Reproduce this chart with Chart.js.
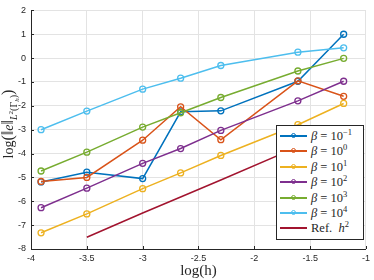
<!DOCTYPE html>
<html>
<head>
<meta charset="utf-8">
<script src="https://cdn.jsdelivr.net/npm/chart.js@4"></script>
<style>
  body { margin: 0; background: #fff; }
  #wrap { position: relative; width: 374px; height: 280px; }
  #ytitle { position: absolute; left: -71px; top: 114px; width: 160px; height: 20px; line-height: 20px;
            transform: rotate(-90deg); text-align: center; white-space: nowrap;
            font: 14px "Liberation Serif", serif; color: #262626; }
  #ytitle .bg { font-size: 16px; }
  #ytitle .sb { font-size: 10px; position: relative; top: 4px; }
  #ytitle .sp { font-size: 7px; position: relative; top: -4px; }
  #ytitle .ss { font-size: 7px; position: relative; top: 2px; }
  #legend { position: absolute; left: 276px; top: 125px; width: 86px; height: 113px;
            border: 1px solid #262626; background: #fff;
            font: 12.5px "Liberation Serif", serif; color: #262626; }
  .row { position: absolute; left: 0; height: 16px; width: 86px; }
  .ln { position: absolute; left: 3px; top: 7px; width: 27px; height: 1.5px; }
  .mk { position: absolute; left: 13.5px; top: 4.5px; width: 3.5px; height: 3.5px; border-radius: 50%;
        border: 1.3px solid; background: transparent; }
  .tx { position: absolute; left: 34px; top: 0; line-height: 16px; white-space: nowrap; }
  .tx sup { font-size: 8.5px; vertical-align: 5px; line-height: 0; }
</style>
</head>
<body>
<div id="wrap">
  <canvas id="myChart" width="374" height="280"></canvas>
  <div id="ytitle">log<span class="bg">(‖</span><i>e</i><span class="bg">‖</span><span class="sb"><i>L</i><span class="sp">2</span>(Γ<span class="ss"><i>h</i></span>)</span><span class="bg">)</span></div>
  <div id="legend"></div>
</div>
<script>
// x values: log(h)
const logH = [-3.91, -3.50, -3.00, -2.66, -2.30, -1.61, -1.20];

// log of the L2 error per beta
const betaM1 = [-5.19, -4.78, -5.05, -2.25, -2.21, -0.97, 1.00];
const beta0  = [-5.17, -5.00, -3.44, -2.04, -3.42, -0.95, -1.60];
const beta1  = [-7.32, -6.53, -5.47, -4.81, -4.08, -2.79, -1.90];
const beta2  = [-6.27, -5.45, -4.41, -3.79, -3.03, -1.79, -0.97];
const beta3  = [-4.73, -3.94, -2.89, -2.29, -1.65, -0.54, -0.01];
const beta4  = [-3.00, -2.22, -1.30, -0.84, -0.31, 0.25, 0.43];
const refH2  = [null, -7.51, -6.49, -5.82, -5.11, -3.72, -2.91];

const labels = ["β = 10^-1", "β = 10^0", "β = 10^1", "β = 10^2", "β = 10^3", "β = 10^4", "Ref. h^2"];
const labelHtml = [
  "<i>β</i> = 10<sup>−1</sup>", "<i>β</i> = 10<sup>0</sup>", "<i>β</i> = 10<sup>1</sup>",
  "<i>β</i> = 10<sup>2</sup>", "<i>β</i> = 10<sup>3</sup>", "<i>β</i> = 10<sup>4</sup>",
  "Ref. &nbsp;<i>h</i><sup>2</sup>"
];
const colors = ["#0072BD", "#D95319", "#EDB120", "#7E2F8E", "#77AC30", "#4DBEEE", "#A2142F"];
const series = [betaM1, beta0, beta1, beta2, beta3, beta4, refH2];

const datasets = series.map(function (ys, i) {
  return {
    label: labels[i],
    data: logH.map(function (x, j) { return { x: x, y: ys[j] }; }),
    borderColor: colors[i],
    borderWidth: 1.5,
    pointRadius: i < 6 ? 3 : 0,
    pointBorderWidth: 1.3,
    pointBackgroundColor: "rgba(0,0,0,0)",
    pointBorderColor: colors[i],
    fill: false,
    tension: 0,
    order: 6 - i,
  };
});

const tickFont = { family: "'Liberation Sans', Arial, sans-serif", size: 9 };

// matlab style ticks pointing into the plot
const innerTicks = {
  id: "innerTicks",
  afterDatasetsDraw: function (chart) {
    const ctx = chart.ctx, a = chart.chartArea;
    const xs = chart.scales.x, ys = chart.scales.y;
    ctx.save();
    ctx.strokeStyle = "#262626";
    ctx.lineWidth = 1;
    ctx.beginPath();
    xs.ticks.forEach(function (t) {
      const p = Math.round(xs.getPixelForValue(t.value)) + 0.5;
      ctx.moveTo(p, a.bottom); ctx.lineTo(p, a.bottom - 3);
    });
    ys.ticks.forEach(function (t) {
      const p = Math.round(ys.getPixelForValue(t.value)) + 0.5;
      ctx.moveTo(a.left, p); ctx.lineTo(a.left + 3, p);
    });
    ctx.stroke();
    ctx.restore();
  },
};

new Chart(document.getElementById("myChart").getContext("2d"), {
  type: "line",
  data: { datasets: datasets },
  plugins: [innerTicks],
  options: {
    responsive: false,
    animation: false,
    events: [],
    layout: { padding: { top: 5, right: 4, left: 0, bottom: 0 } },
    plugins: { legend: { display: false }, tooltip: { enabled: false } },
    scales: {
      x: {
        type: "linear",
        min: -4, max: -1,
        ticks: { stepSize: 0.5, color: "#262626", font: tickFont, padding: 4,
                 callback: function (v) { return String(v); } },
        grid: { color: "#e3e3e3", tickLength: 0 },
        border: { color: "#262626", width: 1 },
        title: { display: true, text: "log(h)", color: "#262626", padding: 0,
                 font: { family: "'Liberation Serif', serif", size: 15 } },
        afterFit: function (s) { s.height = 31; },
      },
      y: {
        min: -8, max: 2,
        ticks: { stepSize: 1, color: "#262626", font: tickFont, padding: 5 },
        grid: { color: "#e3e3e3", tickLength: 0 },
        border: { color: "#262626", width: 1 },
        afterFit: function (s) { s.width = 31; },
      },
    },
  },
});

// legend inside the plot, bottom right
const legend = document.getElementById("legend");
labelHtml.forEach(function (html, i) {
  const row = document.createElement("div");
  row.className = "row";
  row.style.top = Math.round(2 + i * 15.4) + "px";
  let inner = '<div class="ln" style="background:' + colors[i] + '"></div>';
  if (i < 6) inner += '<div class="mk" style="border-color:' + colors[i] + '"></div>';
  inner += '<div class="tx">' + html + '</div>';
  row.innerHTML = inner;
  legend.appendChild(row);
});
</script>
</body>
</html>
